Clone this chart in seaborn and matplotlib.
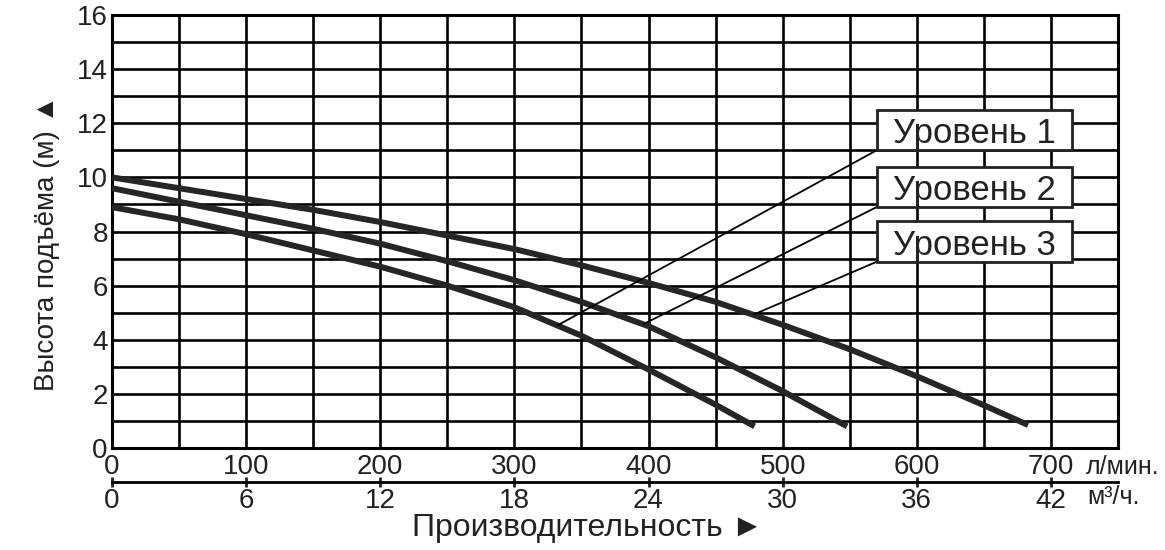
import numpy as np
import pandas as pd
import matplotlib
matplotlib.use("Agg")
import matplotlib.pyplot as plt
import matplotlib.transforms as mtransforms
from matplotlib.patches import Rectangle
import seaborn as sns

# ---- data ----
flow_a = [0, 50, 100, 150, 200, 250, 300, 350, 400, 450, 500, 550, 600, 650, 683]
head_a = [10.0, 9.6, 9.2, 8.8, 8.35, 7.85, 7.35, 6.75, 6.1, 5.4, 4.55, 3.65, 2.65, 1.58, 0.85]
flow_b = [0, 50, 100, 150, 200, 250, 300, 350, 400, 450, 500, 548]
head_b = [9.6, 9.1, 8.6, 8.1, 7.55, 6.9, 6.2, 5.4, 4.5, 3.35, 2.1, 0.8]
flow_c = [0, 50, 100, 150, 200, 250, 300, 350, 400, 450, 479]
head_c = [8.9, 8.45, 7.9, 7.3, 6.7, 6.0, 5.2, 4.15, 2.9, 1.6, 0.8]

level_names = ["Уровень 1", "Уровень 2", "Уровень 3"]
# flow at which each label's leader line meets its curve
leader_flow = [332, 396, 478]

x_ticks_lpm = [0, 100, 200, 300, 400, 500, 600, 700]
x_ticks_m3h = [0, 6, 12, 18, 24, 30, 36, 42]
y_ticks = [0, 2, 4, 6, 8, 10, 12, 14, 16]

sns.set_theme(style="white")
FAM = ["Liberation Sans", "DejaVu Sans"]
plt.rcParams["font.family"] = FAM
TXT = "#222222"

df = pd.concat([
    pd.DataFrame({"flow": flow_c, "head": head_c, "level": level_names[0]}),
    pd.DataFrame({"flow": flow_b, "head": head_b, "level": level_names[1]}),
    pd.DataFrame({"flow": flow_a, "head": head_a, "level": level_names[2]}),
], ignore_index=True)

fig = plt.figure(figsize=(11.65, 5.5), dpi=100)
ax = fig.add_axes([112 / 1165, 1 - 448 / 550, (1118 - 112) / 1165, (448 - 15) / 550])

sns.lineplot(data=df, x="flow", y="head", hue="level", units="level",
             estimator=None, sort=False, legend=False,
             palette=["#262626"] * 3, linewidth=4.3, ax=ax, zorder=3)
for ln in ax.get_lines():
    ln.set_solid_capstyle("butt")
    ln.set_solid_joinstyle("round")

ax.set_xlim(0, 750)
ax.set_ylim(0, 16)
ax.set_xticks(x_ticks_lpm)
ax.set_xticklabels([str(v) for v in x_ticks_lpm])
ax.set_xticks(np.arange(0, 751, 50), minor=True)
ax.set_yticks(y_ticks)
ax.set_yticklabels([str(v) for v in y_ticks])
ax.set_yticks(np.arange(0, 17, 1), minor=True)
ax.grid(True, which="both", color="black", linewidth=1.9)
ax.set_axisbelow(True)
for s in ax.spines.values():
    s.set_visible(True)
    s.set_color("black")
    s.set_linewidth(2.2)
ax.tick_params(axis="both", which="both", length=0, labelsize=20, colors=TXT)
ax.tick_params(axis="x", pad=4)
ax.tick_params(axis="y", pad=3)
ax.set_xlabel("")
ax.set_ylabel("Высота подъёма (м) ▲", fontsize=20, color=TXT)
ax.yaxis.set_label_coords(-0.052, 0.473)

# secondary axis in m3/h
sec = ax.secondary_xaxis(-0.078, functions=(lambda q: q * 0.06, lambda m: m / 0.06))
sec.set_xticks(x_ticks_m3h)
sec.set_xticklabels([str(v) for v in x_ticks_m3h])
sec.tick_params(axis="x", direction="inout", length=7, width=2, pad=1,
                labelsize=20, colors=TXT)
for s in sec.spines.values():
    s.set_linewidth(2)
    s.set_color("black")

fig.text(588 / 1165, 1 - 528 / 550, "Производительность ►", fontsize=23,
         color=TXT, ha="center", va="center")

trans = mtransforms.blended_transform_factory(ax.transData, ax.transAxes)
ax.text(726, -0.016, "л/мин.", transform=trans, ha="left", va="top",
        fontsize=18, color=TXT)
ax.text(727, -0.086, "м³/ч.", transform=trans, ha="left", va="top",
        fontsize=18, color=TXT)

# labels in boxes with leader lines
curves = [(flow_c, head_c), (flow_b, head_b), (flow_a, head_a)]
box_bottom = [11.0, 8.9, 6.88]
box_h = 1.5
box_x0, box_x1 = 570, 716
for name, fq, (fx, fy), yb in zip(level_names, leader_flow, curves, box_bottom):
    hy = float(np.interp(fq, fx, fy))
    ax.plot([box_x0, fq], [yb, hy], color="black", lw=1.3, zorder=4,
            solid_capstyle="butt")
    ax.add_patch(Rectangle((box_x0, yb), box_x1 - box_x0, box_h, fc="white",
                           ec=TXT, lw=2, zorder=5))
    ax.text((box_x0 + box_x1) / 2, yb + box_h / 2, name, ha="center",
            va="center_baseline", fontsize=25, color=TXT, zorder=6)

fig.savefig("out.png", dpi=100)
